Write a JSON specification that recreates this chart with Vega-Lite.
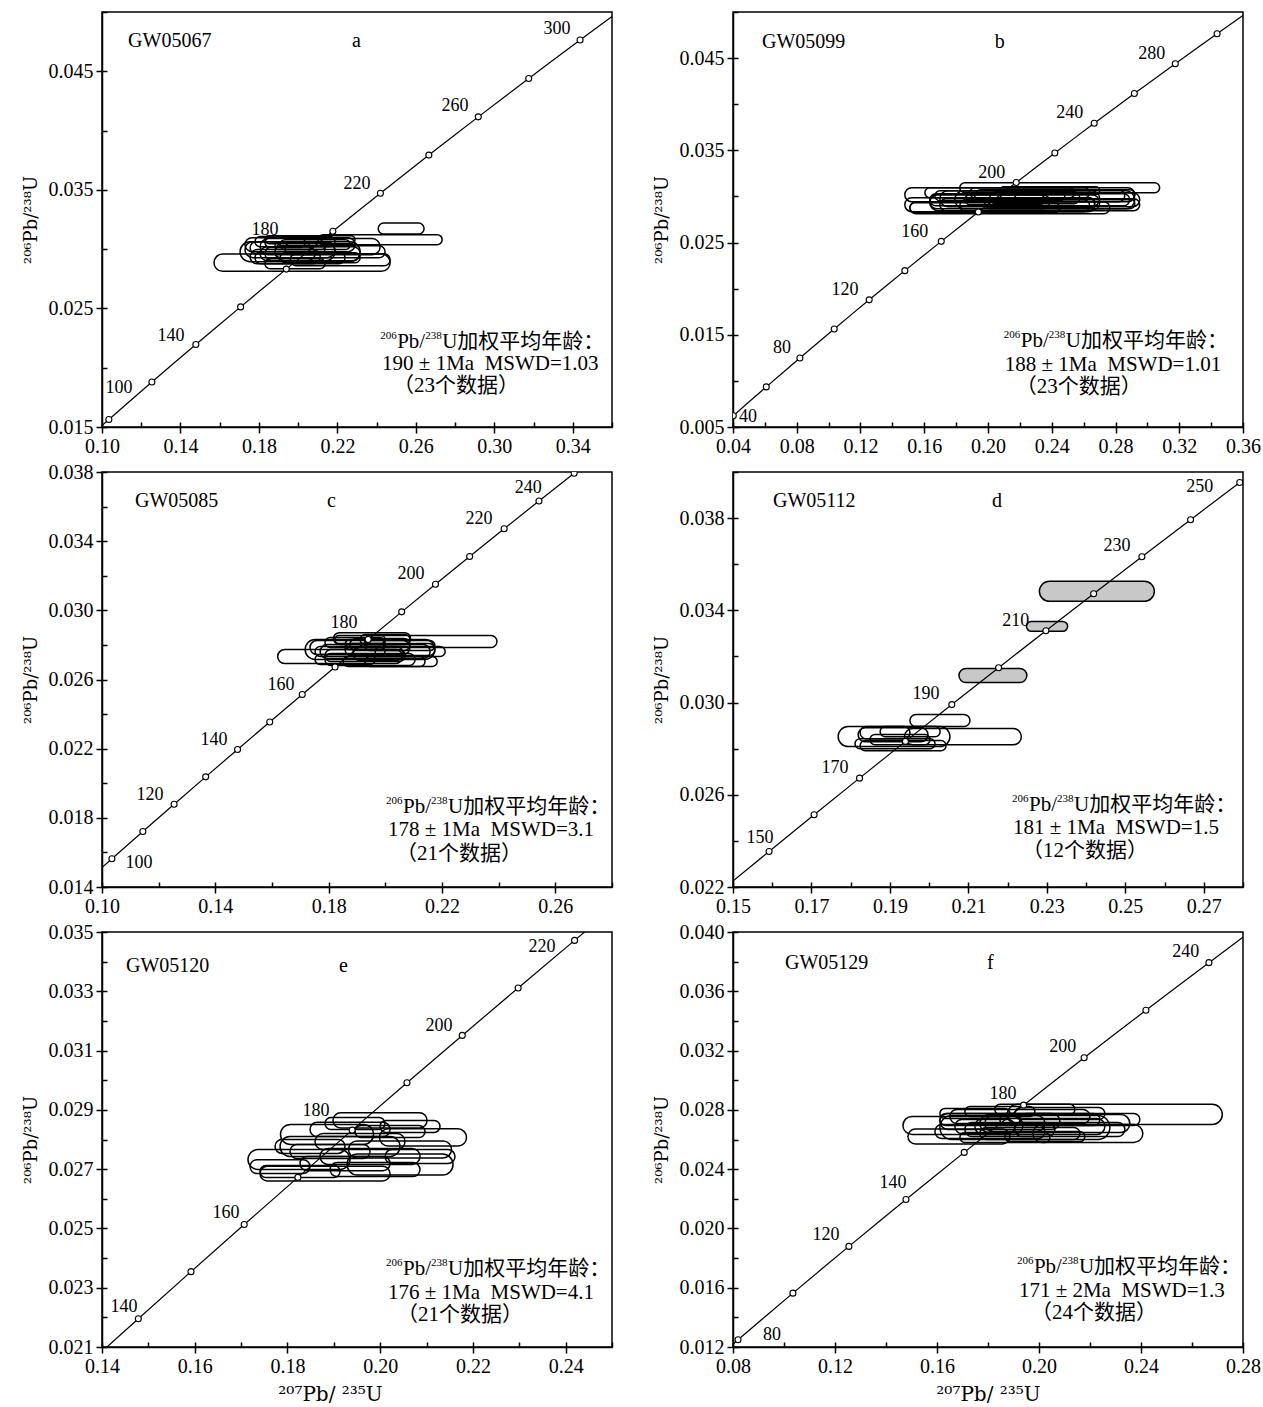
{
  "$schema": "https://vega.github.io/schema/vega-lite/v6.json",
  "background": "white",
  "padding": {"left": 21, "top": 10, "right": 5, "bottom": 5},
  "bounds": "flush",
  "columns": 2,
  "spacing": {"row": 45, "column": 121},
  "config": {
    "view": {"stroke": "black", "strokeWidth": 1.5},
    "font": "Liberation Serif",
    "axis": {"labelFont": "Liberation Serif", "labelFontSize": 20, "labelColor": "black", "domainColor": "black", "domainWidth": 1.5, "tickColor": "black", "tickWidth": 1.5, "tickSize": 6, "grid": false, "titleFont": "DejaVu Serif", "titleFontSize": 18, "titleFontWeight": "normal", "titleColor": "black", "labelPadding": 3, "titlePadding": 8, "labelFlush": false, "labelOverlap": false},
    "text": {"font": "Liberation Serif", "color": "black"}
  },
  "datasets": {
    "concordia": [
      {"t":30,"x":0.029986,"y":0.0046646},{"t":40,"x":0.040180,"y":0.0062243},{"t":50,"x":0.050475,"y":0.0077864},{"t":60,"x":0.060872,"y":0.0093509},{"t":70,"x":0.071371,"y":0.010918},{"t":80,"x":0.081975,"y":0.012487},{"t":90,"x":0.092683,"y":0.014059},{"t":100,"x":0.103498,"y":0.015633},{"t":110,"x":0.114420,"y":0.017210},{"t":120,"x":0.125448,"y":0.018789},{"t":130,"x":0.136588,"y":0.020371},{"t":140,"x":0.147836,"y":0.021955},{"t":150,"x":0.159196,"y":0.023542},{"t":160,"x":0.170670,"y":0.025131},{"t":170,"x":0.182255,"y":0.026722},{"t":180,"x":0.193957,"y":0.028316},{"t":190,"x":0.205774,"y":0.029912},{"t":200,"x":0.217700,"y":0.031511},{"t":210,"x":0.229759,"y":0.033113},{"t":220,"x":0.241930,"y":0.034717},{"t":230,"x":0.254222,"y":0.036323},{"t":240,"x":0.266635,"y":0.037932},{"t":250,"x":0.279171,"y":0.039543},{"t":260,"x":0.291831,"y":0.041157},{"t":270,"x":0.304620,"y":0.042773},{"t":280,"x":0.317528,"y":0.044392},{"t":290,"x":0.330560,"y":0.046014},{"t":300,"x":0.343738,"y":0.047638},{"t":310,"x":0.357037,"y":0.049264},{"t":320,"x":0.370460,"y":0.050893}
    ],
    "ellipses": [
      {"p":"a","x1":0.2408,"x2":0.2642,"y1":0.03127,"y2":0.03220,"s":"open"},
      {"p":"a","x1":0.2102,"x2":0.2734,"y1":0.03038,"y2":0.03122,"s":"open"},
      {"p":"a","x1":0.1571,"x2":0.2469,"y1":0.02814,"y2":0.02958,"s":"open"},
      {"p":"a","x1":0.1729,"x2":0.2290,"y1":0.02979,"y2":0.03097,"s":"open"},
      {"p":"a","x1":0.1729,"x2":0.2188,"y1":0.02928,"y2":0.03063,"s":"open"},
      {"p":"a","x1":0.1806,"x2":0.2316,"y1":0.02903,"y2":0.03021,"s":"open"},
      {"p":"a","x1":0.1780,"x2":0.2188,"y1":0.03021,"y2":0.03106,"s":"open"},
      {"p":"a","x1":0.1806,"x2":0.2418,"y1":0.02953,"y2":0.03089,"s":"open"},
      {"p":"a","x1":0.1755,"x2":0.2112,"y1":0.02877,"y2":0.02996,"s":"open"},
      {"p":"a","x1":0.1882,"x2":0.2188,"y1":0.02903,"y2":0.03055,"s":"open"},
      {"p":"a","x1":0.1882,"x2":0.2443,"y1":0.02928,"y2":0.03029,"s":"open"},
      {"p":"a","x1":0.1755,"x2":0.2061,"y1":0.02962,"y2":0.03063,"s":"open"},
      {"p":"a","x1":0.1780,"x2":0.2239,"y1":0.02877,"y2":0.02979,"s":"open"},
      {"p":"a","x1":0.1908,"x2":0.2265,"y1":0.02996,"y2":0.03080,"s":"open"},
      {"p":"a","x1":0.1831,"x2":0.2086,"y1":0.02903,"y2":0.03021,"s":"open"},
      {"p":"a","x1":0.1933,"x2":0.2137,"y1":0.02953,"y2":0.03055,"s":"open"},
      {"p":"a","x1":0.1908,"x2":0.2316,"y1":0.02886,"y2":0.02970,"s":"open"},
      {"p":"a","x1":0.1882,"x2":0.2137,"y1":0.02996,"y2":0.03063,"s":"open"},
      {"p":"a","x1":0.1831,"x2":0.2137,"y1":0.02835,"y2":0.02920,"s":"open"},
      {"p":"a","x1":0.1959,"x2":0.2469,"y1":0.02860,"y2":0.02962,"s":"open"},
      {"p":"a","x1":0.1831,"x2":0.2035,"y1":0.03013,"y2":0.03097,"s":"open"},
      {"p":"a","x1":0.1831,"x2":0.2290,"y1":0.03046,"y2":0.03114,"s":"open"},
      {"p":"a","x1":0.1704,"x2":0.2316,"y1":0.02894,"y2":0.03063,"s":"open"},
      {"p":"b","x1":0.1478,"x2":0.2921,"y1":0.02943,"y2":0.03094,"s":"open"},
      {"p":"b","x1":0.1823,"x2":0.3077,"y1":0.03040,"y2":0.03148,"s":"open"},
      {"p":"b","x1":0.1478,"x2":0.2670,"y1":0.02835,"y2":0.02986,"s":"open"},
      {"p":"b","x1":0.1635,"x2":0.2889,"y1":0.02900,"y2":0.03030,"s":"open"},
      {"p":"b","x1":0.1698,"x2":0.2952,"y1":0.02846,"y2":0.02975,"s":"open"},
      {"p":"b","x1":0.1510,"x2":0.2764,"y1":0.02813,"y2":0.02943,"s":"open"},
      {"p":"b","x1":0.1698,"x2":0.2701,"y1":0.02889,"y2":0.03062,"s":"open"},
      {"p":"b","x1":0.1917,"x2":0.2858,"y1":0.02943,"y2":0.03073,"s":"open"},
      {"p":"b","x1":0.1635,"x2":0.2388,"y1":0.02867,"y2":0.03019,"s":"open"},
      {"p":"b","x1":0.1886,"x2":0.2638,"y1":0.02986,"y2":0.03094,"s":"open"},
      {"p":"b","x1":0.2074,"x2":0.2952,"y1":0.02889,"y2":0.03040,"s":"open"},
      {"p":"b","x1":0.1667,"x2":0.2482,"y1":0.02954,"y2":0.03062,"s":"open"},
      {"p":"b","x1":0.1980,"x2":0.2670,"y1":0.02878,"y2":0.02986,"s":"open"},
      {"p":"b","x1":0.1635,"x2":0.2701,"y1":0.02846,"y2":0.03019,"s":"open"},
      {"p":"b","x1":0.1980,"x2":0.2921,"y1":0.02867,"y2":0.02975,"s":"open"},
      {"p":"b","x1":0.1510,"x2":0.2450,"y1":0.02824,"y2":0.02932,"s":"open"},
      {"p":"b","x1":0.2011,"x2":0.2576,"y1":0.02921,"y2":0.03051,"s":"open"},
      {"p":"b","x1":0.1855,"x2":0.2356,"y1":0.02911,"y2":0.03019,"s":"open"},
      {"p":"b","x1":0.2074,"x2":0.2701,"y1":0.03019,"y2":0.03105,"s":"open"},
      {"p":"b","x1":0.1823,"x2":0.2638,"y1":0.02835,"y2":0.02965,"s":"open"},
      {"p":"b","x1":0.2168,"x2":0.2921,"y1":0.02965,"y2":0.03073,"s":"open"},
      {"p":"b","x1":0.1604,"x2":0.2544,"y1":0.02986,"y2":0.03094,"s":"open"},
      {"p":"b","x1":0.1792,"x2":0.2921,"y1":0.02867,"y2":0.03062,"s":"open"},
      {"p":"c","x1":0.1620,"x2":0.2061,"y1":0.02692,"y2":0.02773,"s":"open"},
      {"p":"c","x1":0.1928,"x2":0.2394,"y1":0.02785,"y2":0.02854,"s":"open"},
      {"p":"c","x1":0.1817,"x2":0.2089,"y1":0.02802,"y2":0.02871,"s":"open"},
      {"p":"c","x1":0.1734,"x2":0.2087,"y1":0.02744,"y2":0.02825,"s":"open"},
      {"p":"c","x1":0.1770,"x2":0.2158,"y1":0.02721,"y2":0.02802,"s":"open"},
      {"p":"c","x1":0.1787,"x2":0.2070,"y1":0.02704,"y2":0.02773,"s":"open"},
      {"p":"c","x1":0.1875,"x2":0.2087,"y1":0.02767,"y2":0.02837,"s":"open"},
      {"p":"c","x1":0.1787,"x2":0.1999,"y1":0.02785,"y2":0.02843,"s":"open"},
      {"p":"c","x1":0.1858,"x2":0.2175,"y1":0.02739,"y2":0.02808,"s":"open"},
      {"p":"c","x1":0.1787,"x2":0.2105,"y1":0.02681,"y2":0.02750,"s":"open"},
      {"p":"c","x1":0.1851,"x2":0.2183,"y1":0.02675,"y2":0.02733,"s":"open"},
      {"p":"c","x1":0.1752,"x2":0.1999,"y1":0.02733,"y2":0.02791,"s":"open"},
      {"p":"c","x1":0.1911,"x2":0.2087,"y1":0.02802,"y2":0.02860,"s":"open"},
      {"p":"c","x1":0.1858,"x2":0.1999,"y1":0.02773,"y2":0.02831,"s":"open"},
      {"p":"c","x1":0.1928,"x2":0.2175,"y1":0.02767,"y2":0.02825,"s":"open"},
      {"p":"c","x1":0.1752,"x2":0.1964,"y1":0.02687,"y2":0.02744,"s":"open"},
      {"p":"c","x1":0.1886,"x2":0.2063,"y1":0.02710,"y2":0.02791,"s":"open"},
      {"p":"c","x1":0.1822,"x2":0.1999,"y1":0.02808,"y2":0.02854,"s":"open"},
      {"p":"c","x1":0.1964,"x2":0.2211,"y1":0.02733,"y2":0.02791,"s":"open"},
      {"p":"c","x1":0.1717,"x2":0.2175,"y1":0.02716,"y2":0.02831,"s":"open"},
      {"p":"c","x1":0.1928,"x2":0.2140,"y1":0.02675,"y2":0.02733,"s":"open"},
      {"p":"d","x1":0.2281,"x2":0.2574,"y1":0.03439,"y2":0.03526,"s":"gray"},
      {"p":"d","x1":0.2248,"x2":0.2353,"y1":0.03309,"y2":0.03352,"s":"gray"},
      {"p":"d","x1":0.2076,"x2":0.2249,"y1":0.03087,"y2":0.03148,"s":"gray"},
      {"p":"d","x1":0.1768,"x2":0.2053,"y1":0.02809,"y2":0.02896,"s":"open"},
      {"p":"d","x1":0.1937,"x2":0.2235,"y1":0.02817,"y2":0.02887,"s":"open"},
      {"p":"d","x1":0.1951,"x2":0.2104,"y1":0.02896,"y2":0.02948,"s":"open"},
      {"p":"d","x1":0.1824,"x2":0.2043,"y1":0.02791,"y2":0.02835,"s":"open"},
      {"p":"d","x1":0.1819,"x2":0.1997,"y1":0.02830,"y2":0.02891,"s":"open"},
      {"p":"d","x1":0.1849,"x2":0.2002,"y1":0.02817,"y2":0.02861,"s":"open"},
      {"p":"d","x1":0.1824,"x2":0.1951,"y1":0.02843,"y2":0.02896,"s":"open"},
      {"p":"d","x1":0.1875,"x2":0.2028,"y1":0.02852,"y2":0.02896,"s":"open"},
      {"p":"d","x1":0.1811,"x2":0.2015,"y1":0.02800,"y2":0.02843,"s":"open"},
      {"p":"e","x1":0.18983,"x2":0.21010,"y1":0.02839,"y2":0.02890,"s":"open"},
      {"p":"e","x1":0.17850,"x2":0.19856,"y1":0.02783,"y2":0.02851,"s":"open"},
      {"p":"e","x1":0.19986,"x2":0.21862,"y1":0.02778,"y2":0.02836,"s":"open"},
      {"p":"e","x1":0.19317,"x2":0.21539,"y1":0.02738,"y2":0.02795,"s":"open"},
      {"p":"e","x1":0.17149,"x2":0.19349,"y1":0.02699,"y2":0.02766,"s":"open"},
      {"p":"e","x1":0.19285,"x2":0.21571,"y1":0.02680,"y2":0.02751,"s":"open"},
      {"p":"e","x1":0.17408,"x2":0.20212,"y1":0.02660,"y2":0.02710,"s":"open"},
      {"p":"e","x1":0.18487,"x2":0.20212,"y1":0.02810,"y2":0.02858,"s":"open"},
      {"p":"e","x1":0.18594,"x2":0.20535,"y1":0.02766,"y2":0.02820,"s":"open"},
      {"p":"e","x1":0.18055,"x2":0.19781,"y1":0.02736,"y2":0.02783,"s":"open"},
      {"p":"e","x1":0.18702,"x2":0.20859,"y1":0.02716,"y2":0.02770,"s":"open"},
      {"p":"e","x1":0.17732,"x2":0.19242,"y1":0.02753,"y2":0.02800,"s":"open"},
      {"p":"e","x1":0.19457,"x2":0.20967,"y1":0.02807,"y2":0.02847,"s":"open"},
      {"p":"e","x1":0.18271,"x2":0.20212,"y1":0.02695,"y2":0.02743,"s":"open"},
      {"p":"e","x1":0.17192,"x2":0.18487,"y1":0.02685,"y2":0.02732,"s":"open"},
      {"p":"e","x1":0.20104,"x2":0.21614,"y1":0.02719,"y2":0.02766,"s":"open"},
      {"p":"e","x1":0.18810,"x2":0.20104,"y1":0.02834,"y2":0.02874,"s":"open"},
      {"p":"e","x1":0.17408,"x2":0.19134,"y1":0.02672,"y2":0.02712,"s":"open"},
      {"p":"e","x1":0.18918,"x2":0.20859,"y1":0.02675,"y2":0.02722,"s":"open"},
      {"p":"e","x1":0.17840,"x2":0.20428,"y1":0.02743,"y2":0.02810,"s":"open"},
      {"p":"e","x1":0.19996,"x2":0.21291,"y1":0.02824,"y2":0.02864,"s":"open"},
      {"p":"f","x1":0.18760,"x2":0.27188,"y1":0.02701,"y2":0.02837,"s":"open"},
      {"p":"f","x1":0.19760,"x2":0.24072,"y1":0.02580,"y2":0.02701,"s":"open"},
      {"p":"f","x1":0.14664,"x2":0.19368,"y1":0.02634,"y2":0.02755,"s":"open"},
      {"p":"f","x1":0.14860,"x2":0.18858,"y1":0.02570,"y2":0.02671,"s":"open"},
      {"p":"f","x1":0.16114,"x2":0.20818,"y1":0.02668,"y2":0.02776,"s":"open"},
      {"p":"f","x1":0.16506,"x2":0.21994,"y1":0.02708,"y2":0.02803,"s":"open"},
      {"p":"f","x1":0.17486,"x2":0.22582,"y1":0.02634,"y2":0.02742,"s":"open"},
      {"p":"f","x1":0.15918,"x2":0.20230,"y1":0.02607,"y2":0.02701,"s":"open"},
      {"p":"f","x1":0.18466,"x2":0.22386,"y1":0.02695,"y2":0.02776,"s":"open"},
      {"p":"f","x1":0.17094,"x2":0.20622,"y1":0.02620,"y2":0.02715,"s":"open"},
      {"p":"f","x1":0.16114,"x2":0.19250,"y1":0.02695,"y2":0.02776,"s":"open"},
      {"p":"f","x1":0.17682,"x2":0.21602,"y1":0.02600,"y2":0.02681,"s":"open"},
      {"p":"f","x1":0.19054,"x2":0.22582,"y1":0.02735,"y2":0.02816,"s":"open"},
      {"p":"f","x1":0.17094,"x2":0.19838,"y1":0.02755,"y2":0.02823,"s":"open"},
      {"p":"f","x1":0.19054,"x2":0.23366,"y1":0.02620,"y2":0.02715,"s":"open"},
      {"p":"f","x1":0.17878,"x2":0.20230,"y1":0.02654,"y2":0.02762,"s":"open"},
      {"p":"f","x1":0.18662,"x2":0.21798,"y1":0.02586,"y2":0.02654,"s":"open"},
      {"p":"f","x1":0.16702,"x2":0.19054,"y1":0.02640,"y2":0.02735,"s":"open"},
      {"p":"f","x1":0.18270,"x2":0.21406,"y1":0.02769,"y2":0.02837,"s":"open"},
      {"p":"f","x1":0.17682,"x2":0.23562,"y1":0.02647,"y2":0.02769,"s":"open"},
      {"p":"f","x1":0.16898,"x2":0.20426,"y1":0.02580,"y2":0.02647,"s":"open"},
      {"p":"f","x1":0.16114,"x2":0.18858,"y1":0.02742,"y2":0.02810,"s":"open"},
      {"p":"f","x1":0.19250,"x2":0.23954,"y1":0.02695,"y2":0.02776,"s":"open"},
      {"p":"f","x1":0.16114,"x2":0.22778,"y1":0.02600,"y2":0.02762,"s":"open"}
    ],
    "ages": [
      {"p":"a","lab":100,"x":0.1087,"y":0.0183},{"p":"a","lab":140,"x":0.1352,"y":0.0227},{"p":"a","lab":180,"x":0.1831,"y":0.03165},{"p":"a","lab":220,"x":0.2300,"y":0.03546},{"p":"a","lab":260,"x":0.2800,"y":0.04205},{"p":"a","lab":300,"x":0.3320,"y":0.04856},
      {"p":"b","lab":40,"x":0.0494,"y":0.00608},{"p":"b","lab":80,"x":0.0707,"y":0.01354},{"p":"b","lab":120,"x":0.1102,"y":0.01981},{"p":"b","lab":160,"x":0.1541,"y":0.02619},{"p":"b","lab":200,"x":0.2024,"y":0.03257},{"p":"b","lab":240,"x":0.2513,"y":0.03905},{"p":"b","lab":280,"x":0.3027,"y":0.04543},
      {"p":"c","lab":100,"x":0.1131,"y":0.01538},{"p":"c","lab":120,"x":0.1169,"y":0.01931},{"p":"c","lab":140,"x":0.1395,"y":0.02248},{"p":"c","lab":160,"x":0.1632,"y":0.02566},{"p":"c","lab":180,"x":0.1854,"y":0.02929},{"p":"c","lab":200,"x":0.2091,"y":0.03212},{"p":"c","lab":220,"x":0.2331,"y":0.03529},{"p":"c","lab":240,"x":0.2504,"y":0.03708},
      {"p":"d","lab":150,"x":0.15688,"y":0.02413},{"p":"d","lab":170,"x":0.1760,"y":0.02717},{"p":"d","lab":190,"x":0.1992,"y":0.03035},{"p":"d","lab":210,"x":0.2221,"y":0.03352},{"p":"d","lab":230,"x":0.2479,"y":0.03678},{"p":"d","lab":250,"x":0.2690,"y":0.03935},
      {"p":"e","lab":140,"x":0.14475,"y":0.02235},{"p":"e","lab":160,"x":0.16675,"y":0.02553},{"p":"e","lab":180,"x":0.18616,"y":0.02895},{"p":"e","lab":200,"x":0.21269,"y":0.03182},{"p":"e","lab":220,"x":0.23491,"y":0.03449},
      {"p":"f","lab":80,"x":0.09529,"y":0.01281},{"p":"f","lab":120,"x":0.11646,"y":0.01957},{"p":"f","lab":140,"x":0.14272,"y":0.02309},{"p":"f","lab":180,"x":0.18584,"y":0.02904},{"p":"f","lab":200,"x":0.20936,"y":0.03222},{"p":"f","lab":240,"x":0.25758,"y":0.03865}
    ],
    "notes": [
      {"p":"a","k":"n","txt":"GW05067","x":0.1133,"y":0.04753},{"p":"a","k":"n","txt":"a","x":0.2275,"y":0.04753},
      {"p":"a","k":"s","txt":"206","x":0.2418,"y":0.02269},{"p":"a","k":"l","txt":"Pb/","x":0.25047,"y":0.02218},{"p":"a","k":"s","txt":"238","x":0.26474,"y":0.02269},{"p":"a","k":"l","txt":"U加权平均年龄：","x":0.27341,"y":0.02218},
      {"p":"a","k":"l","txt":"190\u00a0±\u00a01Ma\u00a0\u00a0MSWD=1.03","x":0.2428,"y":0.02032},{"p":"a","k":"l","txt":"（23个数据）","x":0.2484,"y":0.01846},
      {"p":"b","k":"n","txt":"GW05099","x":0.0582,"y":0.04673},{"p":"b","k":"n","txt":"b","x":0.2043,"y":0.04673},
      {"p":"b","k":"s","txt":"206","x":0.2099,"y":0.01495},{"p":"b","k":"l","txt":"Pb/","x":0.22057,"y":0.01430},{"p":"b","k":"s","txt":"238","x":0.23814,"y":0.01495},{"p":"b","k":"l","txt":"U加权平均年龄：","x":0.24881,"y":0.01430},
      {"p":"b","k":"l","txt":"188\u00a0±\u00a01Ma\u00a0\u00a0MSWD=1.01","x":0.2105,"y":0.01170},{"p":"b","k":"l","txt":"（23个数据）","x":0.2174,"y":0.00932},
      {"p":"c","k":"n","txt":"GW05085","x":0.11165,"y":0.03633},{"p":"c","k":"n","txt":"c","x":0.17943,"y":0.03633},
      {"p":"c","k":"s","txt":"206","x":0.20025,"y":0.01897},{"p":"c","k":"l","txt":"Pb/","x":0.20625,"y":0.01862},{"p":"c","k":"s","txt":"238","x":0.21613,"y":0.01897},{"p":"c","k":"l","txt":"U加权平均年龄：","x":0.22213,"y":0.01862},
      {"p":"c","k":"l","txt":"178\u00a0±\u00a01Ma\u00a0\u00a0MSWD=3.1","x":0.20096,"y":0.01729},{"p":"c","k":"l","txt":"（21个数据）","x":0.20378,"y":0.01590},
      {"p":"d","k":"n","txt":"GW05112","x":0.16020,"y":0.03874},{"p":"d","k":"n","txt":"d","x":0.21602,"y":0.03874},
      {"p":"d","k":"s","txt":"206","x":0.22112,"y":0.02583},{"p":"d","k":"l","txt":"Pb/","x":0.22545,"y":0.02557},{"p":"d","k":"s","txt":"238","x":0.23259,"y":0.02583},{"p":"d","k":"l","txt":"U加权平均年龄：","x":0.23692,"y":0.02557},
      {"p":"d","k":"l","txt":"181\u00a0±\u00a01Ma\u00a0\u00a0MSWD=1.5","x":0.22137,"y":0.02457},{"p":"d","k":"l","txt":"（12个数据）","x":0.22367,"y":0.02357},
      {"p":"e","k":"n","txt":"GW05120","x":0.14518,"y":0.03385},{"p":"e","k":"n","txt":"e","x":0.19112,"y":0.03385},
      {"p":"e","k":"s","txt":"206","x":0.20126,"y":0.02384},{"p":"e","k":"l","txt":"Pb/","x":0.20493,"y":0.02364},{"p":"e","k":"s","txt":"238","x":0.21097,"y":0.02384},{"p":"e","k":"l","txt":"U加权平均年龄：","x":0.21463,"y":0.02364},
      {"p":"e","k":"l","txt":"176\u00a0±\u00a01Ma\u00a0\u00a0MSWD=4.1","x":0.20169,"y":0.02283},{"p":"e","k":"l","txt":"（21个数据）","x":0.20363,"y":0.02208},
      {"p":"f","k":"n","txt":"GW05129","x":0.10038,"y":0.03790},{"p":"f","k":"n","txt":"f","x":0.17957,"y":0.03790},
      {"p":"f","k":"s","txt":"206","x":0.19133,"y":0.01782},{"p":"f","k":"l","txt":"Pb/","x":0.19800,"y":0.01741},{"p":"f","k":"s","txt":"238","x":0.20898,"y":0.01782},{"p":"f","k":"l","txt":"U加权平均年龄：","x":0.21565,"y":0.01741},
      {"p":"f","k":"l","txt":"171\u00a0±\u00a02Ma\u00a0\u00a0MSWD=1.3","x":0.19211,"y":0.01579},{"p":"f","k":"l","txt":"（24个数据）","x":0.19682,"y":0.01430}
    ]
  },
  "concat": [
    {
      "width": 510, "height": 415,
      "resolve": {"axis": {"x": "independent", "y": "independent"}},
      "layer": [
        {"data": {"name": "ellipses"}, "transform": [{"filter": {"field": "p", "equal": "a"}}],
         "mark": {"type": "rect", "cornerRadius": 300, "stroke": "black", "strokeWidth": 1.5, "clip": true},
         "encoding": {
           "x": {"field": "x1", "type": "quantitative", "scale": {"domain": [0.10, 0.36], "nice": false, "zero": false}, "axis": {"orient": "bottom", "values": [0.10,0.14,0.18,0.22,0.26,0.30,0.34], "format": ".2f", "title": null}},
           "x2": {"field": "x2"},
           "y": {"field": "y1", "type": "quantitative", "scale": {"domain": [0.015, 0.050], "nice": false, "zero": false}, "axis": {"orient": "left", "values": [0.015,0.025,0.035,0.045], "format": ".3f", "title": "²⁰⁶Pb/²³⁸U"}},
           "y2": {"field": "y2"},
           "fill": {"field": "s", "type": "nominal", "scale": {"domain": ["open", "gray"], "range": ["transparent", "#c8c8c8"]}, "legend": null}
         }},
        {"data": {"name": "concordia"}, "transform": [{"filter": {"field": "t", "range": [90, 320]}}],
         "mark": {"type": "line", "color": "black", "strokeWidth": 1.2, "clip": true},
         "encoding": {
           "x": {"field": "x", "type": "quantitative", "scale": {"domain": [0.10, 0.36], "nice": false, "zero": false}, "axis": {"orient": "bottom", "values": [0.10,0.12,0.14,0.16,0.18,0.20,0.22,0.24,0.26,0.28,0.30,0.32,0.34,0.36], "labels": false, "domain": false, "tickSize": -5, "title": null}},
           "y": {"field": "y", "type": "quantitative", "scale": {"domain": [0.015, 0.050], "nice": false, "zero": false}, "axis": {"orient": "left", "values": [0.015,0.020,0.025,0.030,0.035,0.040,0.045,0.050], "labels": false, "domain": false, "tickSize": -5, "title": null}},
           "order": {"field": "t", "type": "quantitative"}
         }},
        {"data": {"name": "concordia"}, "transform": [{"filter": {"field": "t", "oneOf": [100,120,140,160,180,200,220,240,260,280,300]}}],
         "mark": {"type": "point", "shape": "circle", "size": 36, "filled": true, "fill": "white", "stroke": "black", "strokeWidth": 1.1, "opacity": 1, "clip": true},
         "encoding": {
           "x": {"field": "x", "type": "quantitative", "scale": {"domain": [0.10, 0.36], "nice": false, "zero": false}, "axis": null},
           "y": {"field": "y", "type": "quantitative", "scale": {"domain": [0.015, 0.050], "nice": false, "zero": false}, "axis": null}
         }},
        {"data": {"name": "ages"}, "transform": [{"filter": {"field": "p", "equal": "a"}}],
         "mark": {"type": "text", "fontSize": 18, "baseline": "middle", "align": "center"},
         "encoding": {
           "x": {"field": "x", "type": "quantitative", "scale": {"domain": [0.10, 0.36], "nice": false, "zero": false}, "axis": null},
           "y": {"field": "y", "type": "quantitative", "scale": {"domain": [0.015, 0.050], "nice": false, "zero": false}, "axis": null},
           "text": {"field": "lab", "type": "nominal"}
         }},
        {"data": {"name": "notes"}, "transform": [{"filter": {"field": "p", "equal": "a"}}, {"filter": {"field": "k", "equal": "n"}}],
         "mark": {"type": "text", "fontSize": 20, "baseline": "middle", "align": "left"},
         "encoding": {
           "x": {"field": "x", "type": "quantitative", "scale": {"domain": [0.10, 0.36], "nice": false, "zero": false}, "axis": null},
           "y": {"field": "y", "type": "quantitative", "scale": {"domain": [0.015, 0.050], "nice": false, "zero": false}, "axis": null},
           "text": {"field": "txt", "type": "nominal"}
         }},
        {"data": {"name": "notes"}, "transform": [{"filter": {"field": "p", "equal": "a"}}, {"filter": {"field": "k", "equal": "s"}}],
         "mark": {"type": "text", "fontSize": 11, "baseline": "middle", "align": "left"},
         "encoding": {
           "x": {"field": "x", "type": "quantitative", "scale": {"domain": [0.10, 0.36], "nice": false, "zero": false}, "axis": null},
           "y": {"field": "y", "type": "quantitative", "scale": {"domain": [0.015, 0.050], "nice": false, "zero": false}, "axis": null},
           "text": {"field": "txt", "type": "nominal"}
         }},
        {"data": {"name": "notes"}, "transform": [{"filter": {"field": "p", "equal": "a"}}, {"filter": {"field": "k", "equal": "l"}}],
         "mark": {"type": "text", "fontSize": 21, "baseline": "middle", "align": "left", "font": "Liberation Serif, Noto Sans CJK SC"},
         "encoding": {
           "x": {"field": "x", "type": "quantitative", "scale": {"domain": [0.10, 0.36], "nice": false, "zero": false}, "axis": null},
           "y": {"field": "y", "type": "quantitative", "scale": {"domain": [0.015, 0.050], "nice": false, "zero": false}, "axis": null},
           "text": {"field": "txt", "type": "nominal"}
         }}
      ]
    },
    {
      "width": 510, "height": 415,
      "resolve": {"axis": {"x": "independent", "y": "independent"}},
      "layer": [
        {"data": {"name": "ellipses"}, "transform": [{"filter": {"field": "p", "equal": "b"}}],
         "mark": {"type": "rect", "cornerRadius": 300, "stroke": "black", "strokeWidth": 1.5, "clip": true},
         "encoding": {
           "x": {"field": "x1", "type": "quantitative", "scale": {"domain": [0.04, 0.36], "nice": false, "zero": false}, "axis": {"orient": "bottom", "values": [0.04,0.08,0.12,0.16,0.20,0.24,0.28,0.32,0.36], "format": ".2f", "title": null}},
           "x2": {"field": "x2"},
           "y": {"field": "y1", "type": "quantitative", "scale": {"domain": [0.005, 0.050], "nice": false, "zero": false}, "axis": {"orient": "left", "values": [0.005,0.015,0.025,0.035,0.045], "format": ".3f", "title": "²⁰⁶Pb/²³⁸U"}},
           "y2": {"field": "y2"},
           "fill": {"field": "s", "type": "nominal", "scale": {"domain": ["open", "gray"], "range": ["transparent", "#c8c8c8"]}, "legend": null}
         }},
        {"data": {"name": "concordia"}, "transform": [{"filter": {"field": "t", "range": [30, 320]}}],
         "mark": {"type": "line", "color": "black", "strokeWidth": 1.2, "clip": true},
         "encoding": {
           "x": {"field": "x", "type": "quantitative", "scale": {"domain": [0.04, 0.36], "nice": false, "zero": false}, "axis": {"orient": "bottom", "values": [0.04,0.06,0.08,0.10,0.12,0.14,0.16,0.18,0.20,0.22,0.24,0.26,0.28,0.30,0.32,0.34,0.36], "labels": false, "domain": false, "tickSize": -5, "title": null}},
           "y": {"field": "y", "type": "quantitative", "scale": {"domain": [0.005, 0.050], "nice": false, "zero": false}, "axis": {"orient": "left", "values": [0.005,0.010,0.015,0.020,0.025,0.030,0.035,0.040,0.045,0.050], "labels": false, "domain": false, "tickSize": -5, "title": null}},
           "order": {"field": "t", "type": "quantitative"}
         }},
        {"data": {"name": "concordia"}, "transform": [{"filter": {"field": "t", "oneOf": [40,60,80,100,120,140,160,180,200,220,240,260,280,300]}}],
         "mark": {"type": "point", "shape": "circle", "size": 36, "filled": true, "fill": "white", "stroke": "black", "strokeWidth": 1.1, "opacity": 1, "clip": true},
         "encoding": {
           "x": {"field": "x", "type": "quantitative", "scale": {"domain": [0.04, 0.36], "nice": false, "zero": false}, "axis": null},
           "y": {"field": "y", "type": "quantitative", "scale": {"domain": [0.005, 0.050], "nice": false, "zero": false}, "axis": null}
         }},
        {"data": {"name": "ages"}, "transform": [{"filter": {"field": "p", "equal": "b"}}],
         "mark": {"type": "text", "fontSize": 18, "baseline": "middle", "align": "center"},
         "encoding": {
           "x": {"field": "x", "type": "quantitative", "scale": {"domain": [0.04, 0.36], "nice": false, "zero": false}, "axis": null},
           "y": {"field": "y", "type": "quantitative", "scale": {"domain": [0.005, 0.050], "nice": false, "zero": false}, "axis": null},
           "text": {"field": "lab", "type": "nominal"}
         }},
        {"data": {"name": "notes"}, "transform": [{"filter": {"field": "p", "equal": "b"}}, {"filter": {"field": "k", "equal": "n"}}],
         "mark": {"type": "text", "fontSize": 20, "baseline": "middle", "align": "left"},
         "encoding": {
           "x": {"field": "x", "type": "quantitative", "scale": {"domain": [0.04, 0.36], "nice": false, "zero": false}, "axis": null},
           "y": {"field": "y", "type": "quantitative", "scale": {"domain": [0.005, 0.050], "nice": false, "zero": false}, "axis": null},
           "text": {"field": "txt", "type": "nominal"}
         }},
        {"data": {"name": "notes"}, "transform": [{"filter": {"field": "p", "equal": "b"}}, {"filter": {"field": "k", "equal": "s"}}],
         "mark": {"type": "text", "fontSize": 11, "baseline": "middle", "align": "left"},
         "encoding": {
           "x": {"field": "x", "type": "quantitative", "scale": {"domain": [0.04, 0.36], "nice": false, "zero": false}, "axis": null},
           "y": {"field": "y", "type": "quantitative", "scale": {"domain": [0.005, 0.050], "nice": false, "zero": false}, "axis": null},
           "text": {"field": "txt", "type": "nominal"}
         }},
        {"data": {"name": "notes"}, "transform": [{"filter": {"field": "p", "equal": "b"}}, {"filter": {"field": "k", "equal": "l"}}],
         "mark": {"type": "text", "fontSize": 21, "baseline": "middle", "align": "left", "font": "Liberation Serif, Noto Sans CJK SC"},
         "encoding": {
           "x": {"field": "x", "type": "quantitative", "scale": {"domain": [0.04, 0.36], "nice": false, "zero": false}, "axis": null},
           "y": {"field": "y", "type": "quantitative", "scale": {"domain": [0.005, 0.050], "nice": false, "zero": false}, "axis": null},
           "text": {"field": "txt", "type": "nominal"}
         }}
      ]
    },
    {
      "width": 510, "height": 415,
      "resolve": {"axis": {"x": "independent", "y": "independent"}},
      "layer": [
        {"data": {"name": "ellipses"}, "transform": [{"filter": {"field": "p", "equal": "c"}}],
         "mark": {"type": "rect", "cornerRadius": 300, "stroke": "black", "strokeWidth": 1.5, "clip": true},
         "encoding": {
           "x": {"field": "x1", "type": "quantitative", "scale": {"domain": [0.10, 0.28], "nice": false, "zero": false}, "axis": {"orient": "bottom", "values": [0.10,0.14,0.18,0.22,0.26], "format": ".2f", "title": null}},
           "x2": {"field": "x2"},
           "y": {"field": "y1", "type": "quantitative", "scale": {"domain": [0.014, 0.038], "nice": false, "zero": false}, "axis": {"orient": "left", "values": [0.014,0.018,0.022,0.026,0.030,0.034,0.038], "format": ".3f", "title": "²⁰⁶Pb/²³⁸U"}},
           "y2": {"field": "y2"},
           "fill": {"field": "s", "type": "nominal", "scale": {"domain": ["open", "gray"], "range": ["transparent", "#c8c8c8"]}, "legend": null}
         }},
        {"data": {"name": "concordia"}, "transform": [{"filter": {"field": "t", "range": [90, 260]}}],
         "mark": {"type": "line", "color": "black", "strokeWidth": 1.2, "clip": true},
         "encoding": {
           "x": {"field": "x", "type": "quantitative", "scale": {"domain": [0.10, 0.28], "nice": false, "zero": false}, "axis": {"orient": "bottom", "values": [0.10,0.12,0.14,0.16,0.18,0.20,0.22,0.24,0.26,0.28], "labels": false, "domain": false, "tickSize": -5, "title": null}},
           "y": {"field": "y", "type": "quantitative", "scale": {"domain": [0.014, 0.038], "nice": false, "zero": false}, "axis": {"orient": "left", "values": [0.014,0.016,0.018,0.020,0.022,0.024,0.026,0.028,0.030,0.032,0.034,0.036,0.038], "labels": false, "domain": false, "tickSize": -5, "title": null}},
           "order": {"field": "t", "type": "quantitative"}
         }},
        {"data": {"name": "concordia"}, "transform": [{"filter": {"field": "t", "oneOf": [100,110,120,130,140,150,160,170,180,190,200,210,220,230,240]}}],
         "mark": {"type": "point", "shape": "circle", "size": 36, "filled": true, "fill": "white", "stroke": "black", "strokeWidth": 1.1, "opacity": 1, "clip": true},
         "encoding": {
           "x": {"field": "x", "type": "quantitative", "scale": {"domain": [0.10, 0.28], "nice": false, "zero": false}, "axis": null},
           "y": {"field": "y", "type": "quantitative", "scale": {"domain": [0.014, 0.038], "nice": false, "zero": false}, "axis": null}
         }},
        {"data": {"name": "ages"}, "transform": [{"filter": {"field": "p", "equal": "c"}}],
         "mark": {"type": "text", "fontSize": 18, "baseline": "middle", "align": "center"},
         "encoding": {
           "x": {"field": "x", "type": "quantitative", "scale": {"domain": [0.10, 0.28], "nice": false, "zero": false}, "axis": null},
           "y": {"field": "y", "type": "quantitative", "scale": {"domain": [0.014, 0.038], "nice": false, "zero": false}, "axis": null},
           "text": {"field": "lab", "type": "nominal"}
         }},
        {"data": {"name": "notes"}, "transform": [{"filter": {"field": "p", "equal": "c"}}, {"filter": {"field": "k", "equal": "n"}}],
         "mark": {"type": "text", "fontSize": 20, "baseline": "middle", "align": "left"},
         "encoding": {
           "x": {"field": "x", "type": "quantitative", "scale": {"domain": [0.10, 0.28], "nice": false, "zero": false}, "axis": null},
           "y": {"field": "y", "type": "quantitative", "scale": {"domain": [0.014, 0.038], "nice": false, "zero": false}, "axis": null},
           "text": {"field": "txt", "type": "nominal"}
         }},
        {"data": {"name": "notes"}, "transform": [{"filter": {"field": "p", "equal": "c"}}, {"filter": {"field": "k", "equal": "s"}}],
         "mark": {"type": "text", "fontSize": 11, "baseline": "middle", "align": "left"},
         "encoding": {
           "x": {"field": "x", "type": "quantitative", "scale": {"domain": [0.10, 0.28], "nice": false, "zero": false}, "axis": null},
           "y": {"field": "y", "type": "quantitative", "scale": {"domain": [0.014, 0.038], "nice": false, "zero": false}, "axis": null},
           "text": {"field": "txt", "type": "nominal"}
         }},
        {"data": {"name": "notes"}, "transform": [{"filter": {"field": "p", "equal": "c"}}, {"filter": {"field": "k", "equal": "l"}}],
         "mark": {"type": "text", "fontSize": 21, "baseline": "middle", "align": "left", "font": "Liberation Serif, Noto Sans CJK SC"},
         "encoding": {
           "x": {"field": "x", "type": "quantitative", "scale": {"domain": [0.10, 0.28], "nice": false, "zero": false}, "axis": null},
           "y": {"field": "y", "type": "quantitative", "scale": {"domain": [0.014, 0.038], "nice": false, "zero": false}, "axis": null},
           "text": {"field": "txt", "type": "nominal"}
         }}
      ]
    },
    {
      "width": 510, "height": 415,
      "resolve": {"axis": {"x": "independent", "y": "independent"}},
      "layer": [
        {"data": {"name": "ellipses"}, "transform": [{"filter": {"field": "p", "equal": "d"}}],
         "mark": {"type": "rect", "cornerRadius": 300, "stroke": "black", "strokeWidth": 1.5, "clip": true},
         "encoding": {
           "x": {"field": "x1", "type": "quantitative", "scale": {"domain": [0.15, 0.28], "nice": false, "zero": false}, "axis": {"orient": "bottom", "values": [0.15,0.17,0.19,0.21,0.23,0.25,0.27], "format": ".2f", "title": null}},
           "x2": {"field": "x2"},
           "y": {"field": "y1", "type": "quantitative", "scale": {"domain": [0.022, 0.040], "nice": false, "zero": false}, "axis": {"orient": "left", "values": [0.022,0.026,0.030,0.034,0.038], "format": ".3f", "title": "²⁰⁶Pb/²³⁸U"}},
           "y2": {"field": "y2"},
           "fill": {"field": "s", "type": "nominal", "scale": {"domain": ["open", "gray"], "range": ["transparent", "#c8c8c8"]}, "legend": null}
         }},
        {"data": {"name": "concordia"}, "transform": [{"filter": {"field": "t", "range": [140, 260]}}],
         "mark": {"type": "line", "color": "black", "strokeWidth": 1.2, "clip": true},
         "encoding": {
           "x": {"field": "x", "type": "quantitative", "scale": {"domain": [0.15, 0.28], "nice": false, "zero": false}, "axis": {"orient": "bottom", "values": [0.15,0.16,0.17,0.18,0.19,0.20,0.21,0.22,0.23,0.24,0.25,0.26,0.27,0.28], "labels": false, "domain": false, "tickSize": -5, "title": null}},
           "y": {"field": "y", "type": "quantitative", "scale": {"domain": [0.022, 0.040], "nice": false, "zero": false}, "axis": {"orient": "left", "values": [0.022,0.024,0.026,0.028,0.030,0.032,0.034,0.036,0.038,0.040], "labels": false, "domain": false, "tickSize": -5, "title": null}},
           "order": {"field": "t", "type": "quantitative"}
         }},
        {"data": {"name": "concordia"}, "transform": [{"filter": {"field": "t", "oneOf": [150,160,170,180,190,200,210,220,230,240,250]}}],
         "mark": {"type": "point", "shape": "circle", "size": 36, "filled": true, "fill": "white", "stroke": "black", "strokeWidth": 1.1, "opacity": 1, "clip": true},
         "encoding": {
           "x": {"field": "x", "type": "quantitative", "scale": {"domain": [0.15, 0.28], "nice": false, "zero": false}, "axis": null},
           "y": {"field": "y", "type": "quantitative", "scale": {"domain": [0.022, 0.040], "nice": false, "zero": false}, "axis": null}
         }},
        {"data": {"name": "ages"}, "transform": [{"filter": {"field": "p", "equal": "d"}}],
         "mark": {"type": "text", "fontSize": 18, "baseline": "middle", "align": "center"},
         "encoding": {
           "x": {"field": "x", "type": "quantitative", "scale": {"domain": [0.15, 0.28], "nice": false, "zero": false}, "axis": null},
           "y": {"field": "y", "type": "quantitative", "scale": {"domain": [0.022, 0.040], "nice": false, "zero": false}, "axis": null},
           "text": {"field": "lab", "type": "nominal"}
         }},
        {"data": {"name": "notes"}, "transform": [{"filter": {"field": "p", "equal": "d"}}, {"filter": {"field": "k", "equal": "n"}}],
         "mark": {"type": "text", "fontSize": 20, "baseline": "middle", "align": "left"},
         "encoding": {
           "x": {"field": "x", "type": "quantitative", "scale": {"domain": [0.15, 0.28], "nice": false, "zero": false}, "axis": null},
           "y": {"field": "y", "type": "quantitative", "scale": {"domain": [0.022, 0.040], "nice": false, "zero": false}, "axis": null},
           "text": {"field": "txt", "type": "nominal"}
         }},
        {"data": {"name": "notes"}, "transform": [{"filter": {"field": "p", "equal": "d"}}, {"filter": {"field": "k", "equal": "s"}}],
         "mark": {"type": "text", "fontSize": 11, "baseline": "middle", "align": "left"},
         "encoding": {
           "x": {"field": "x", "type": "quantitative", "scale": {"domain": [0.15, 0.28], "nice": false, "zero": false}, "axis": null},
           "y": {"field": "y", "type": "quantitative", "scale": {"domain": [0.022, 0.040], "nice": false, "zero": false}, "axis": null},
           "text": {"field": "txt", "type": "nominal"}
         }},
        {"data": {"name": "notes"}, "transform": [{"filter": {"field": "p", "equal": "d"}}, {"filter": {"field": "k", "equal": "l"}}],
         "mark": {"type": "text", "fontSize": 21, "baseline": "middle", "align": "left", "font": "Liberation Serif, Noto Sans CJK SC"},
         "encoding": {
           "x": {"field": "x", "type": "quantitative", "scale": {"domain": [0.15, 0.28], "nice": false, "zero": false}, "axis": null},
           "y": {"field": "y", "type": "quantitative", "scale": {"domain": [0.022, 0.040], "nice": false, "zero": false}, "axis": null},
           "text": {"field": "txt", "type": "nominal"}
         }}
      ]
    },
    {
      "width": 510, "height": 415,
      "resolve": {"axis": {"x": "independent", "y": "independent"}},
      "layer": [
        {"data": {"name": "ellipses"}, "transform": [{"filter": {"field": "p", "equal": "e"}}],
         "mark": {"type": "rect", "cornerRadius": 300, "stroke": "black", "strokeWidth": 1.5, "clip": true},
         "encoding": {
           "x": {"field": "x1", "type": "quantitative", "scale": {"domain": [0.14, 0.25], "nice": false, "zero": false}, "axis": {"orient": "bottom", "values": [0.14,0.16,0.18,0.20,0.22,0.24], "format": ".2f", "title": "²⁰⁷Pb/ ²³⁵U", "titleFontSize": 20, "titleX": 228}},
           "x2": {"field": "x2"},
           "y": {"field": "y1", "type": "quantitative", "scale": {"domain": [0.021, 0.035], "nice": false, "zero": false}, "axis": {"orient": "left", "values": [0.021,0.023,0.025,0.027,0.029,0.031,0.033,0.035], "format": ".3f", "title": "²⁰⁶Pb/²³⁸U"}},
           "y2": {"field": "y2"},
           "fill": {"field": "s", "type": "nominal", "scale": {"domain": ["open", "gray"], "range": ["transparent", "#c8c8c8"]}, "legend": null}
         }},
        {"data": {"name": "concordia"}, "transform": [{"filter": {"field": "t", "range": [130, 230]}}],
         "mark": {"type": "line", "color": "black", "strokeWidth": 1.2, "clip": true},
         "encoding": {
           "x": {"field": "x", "type": "quantitative", "scale": {"domain": [0.14, 0.25], "nice": false, "zero": false}, "axis": {"orient": "bottom", "values": [0.14,0.15,0.16,0.17,0.18,0.19,0.20,0.21,0.22,0.23,0.24,0.25], "labels": false, "domain": false, "tickSize": -5, "title": null}},
           "y": {"field": "y", "type": "quantitative", "scale": {"domain": [0.021, 0.035], "nice": false, "zero": false}, "axis": {"orient": "left", "values": [0.021,0.022,0.023,0.024,0.025,0.026,0.027,0.028,0.029,0.030,0.031,0.032,0.033,0.034,0.035], "labels": false, "domain": false, "tickSize": -5, "title": null}},
           "order": {"field": "t", "type": "quantitative"}
         }},
        {"data": {"name": "concordia"}, "transform": [{"filter": {"field": "t", "oneOf": [140,150,160,170,180,190,200,210,220]}}],
         "mark": {"type": "point", "shape": "circle", "size": 36, "filled": true, "fill": "white", "stroke": "black", "strokeWidth": 1.1, "opacity": 1, "clip": true},
         "encoding": {
           "x": {"field": "x", "type": "quantitative", "scale": {"domain": [0.14, 0.25], "nice": false, "zero": false}, "axis": null},
           "y": {"field": "y", "type": "quantitative", "scale": {"domain": [0.021, 0.035], "nice": false, "zero": false}, "axis": null}
         }},
        {"data": {"name": "ages"}, "transform": [{"filter": {"field": "p", "equal": "e"}}],
         "mark": {"type": "text", "fontSize": 18, "baseline": "middle", "align": "center"},
         "encoding": {
           "x": {"field": "x", "type": "quantitative", "scale": {"domain": [0.14, 0.25], "nice": false, "zero": false}, "axis": null},
           "y": {"field": "y", "type": "quantitative", "scale": {"domain": [0.021, 0.035], "nice": false, "zero": false}, "axis": null},
           "text": {"field": "lab", "type": "nominal"}
         }},
        {"data": {"name": "notes"}, "transform": [{"filter": {"field": "p", "equal": "e"}}, {"filter": {"field": "k", "equal": "n"}}],
         "mark": {"type": "text", "fontSize": 20, "baseline": "middle", "align": "left"},
         "encoding": {
           "x": {"field": "x", "type": "quantitative", "scale": {"domain": [0.14, 0.25], "nice": false, "zero": false}, "axis": null},
           "y": {"field": "y", "type": "quantitative", "scale": {"domain": [0.021, 0.035], "nice": false, "zero": false}, "axis": null},
           "text": {"field": "txt", "type": "nominal"}
         }},
        {"data": {"name": "notes"}, "transform": [{"filter": {"field": "p", "equal": "e"}}, {"filter": {"field": "k", "equal": "s"}}],
         "mark": {"type": "text", "fontSize": 11, "baseline": "middle", "align": "left"},
         "encoding": {
           "x": {"field": "x", "type": "quantitative", "scale": {"domain": [0.14, 0.25], "nice": false, "zero": false}, "axis": null},
           "y": {"field": "y", "type": "quantitative", "scale": {"domain": [0.021, 0.035], "nice": false, "zero": false}, "axis": null},
           "text": {"field": "txt", "type": "nominal"}
         }},
        {"data": {"name": "notes"}, "transform": [{"filter": {"field": "p", "equal": "e"}}, {"filter": {"field": "k", "equal": "l"}}],
         "mark": {"type": "text", "fontSize": 21, "baseline": "middle", "align": "left", "font": "Liberation Serif, Noto Sans CJK SC"},
         "encoding": {
           "x": {"field": "x", "type": "quantitative", "scale": {"domain": [0.14, 0.25], "nice": false, "zero": false}, "axis": null},
           "y": {"field": "y", "type": "quantitative", "scale": {"domain": [0.021, 0.035], "nice": false, "zero": false}, "axis": null},
           "text": {"field": "txt", "type": "nominal"}
         }}
      ]
    },
    {
      "width": 510, "height": 415,
      "resolve": {"axis": {"x": "independent", "y": "independent"}},
      "layer": [
        {"data": {"name": "ellipses"}, "transform": [{"filter": {"field": "p", "equal": "f"}}],
         "mark": {"type": "rect", "cornerRadius": 300, "stroke": "black", "strokeWidth": 1.5, "clip": true},
         "encoding": {
           "x": {"field": "x1", "type": "quantitative", "scale": {"domain": [0.08, 0.28], "nice": false, "zero": false}, "axis": {"orient": "bottom", "values": [0.08,0.12,0.16,0.20,0.24,0.28], "format": ".2f", "title": "²⁰⁷Pb/ ²³⁵U", "titleFontSize": 20}},
           "x2": {"field": "x2"},
           "y": {"field": "y1", "type": "quantitative", "scale": {"domain": [0.012, 0.040], "nice": false, "zero": false}, "axis": {"orient": "left", "values": [0.012,0.016,0.020,0.024,0.028,0.032,0.036,0.040], "format": ".3f", "title": "²⁰⁶Pb/²³⁸U"}},
           "y2": {"field": "y2"},
           "fill": {"field": "s", "type": "nominal", "scale": {"domain": ["open", "gray"], "range": ["transparent", "#c8c8c8"]}, "legend": null}
         }},
        {"data": {"name": "concordia"}, "transform": [{"filter": {"field": "t", "range": [70, 260]}}],
         "mark": {"type": "line", "color": "black", "strokeWidth": 1.2, "clip": true},
         "encoding": {
           "x": {"field": "x", "type": "quantitative", "scale": {"domain": [0.08, 0.28], "nice": false, "zero": false}, "axis": {"orient": "bottom", "values": [0.08,0.10,0.12,0.14,0.16,0.18,0.20,0.22,0.24,0.26,0.28], "labels": false, "domain": false, "tickSize": -5, "title": null}},
           "y": {"field": "y", "type": "quantitative", "scale": {"domain": [0.012, 0.040], "nice": false, "zero": false}, "axis": {"orient": "left", "values": [0.012,0.014,0.016,0.018,0.020,0.022,0.024,0.026,0.028,0.030,0.032,0.034,0.036,0.038,0.040], "labels": false, "domain": false, "tickSize": -5, "title": null}},
           "order": {"field": "t", "type": "quantitative"}
         }},
        {"data": {"name": "concordia"}, "transform": [{"filter": {"field": "t", "oneOf": [80,100,120,140,160,180,200,220,240]}}],
         "mark": {"type": "point", "shape": "circle", "size": 36, "filled": true, "fill": "white", "stroke": "black", "strokeWidth": 1.1, "opacity": 1, "clip": true},
         "encoding": {
           "x": {"field": "x", "type": "quantitative", "scale": {"domain": [0.08, 0.28], "nice": false, "zero": false}, "axis": null},
           "y": {"field": "y", "type": "quantitative", "scale": {"domain": [0.012, 0.040], "nice": false, "zero": false}, "axis": null}
         }},
        {"data": {"name": "ages"}, "transform": [{"filter": {"field": "p", "equal": "f"}}],
         "mark": {"type": "text", "fontSize": 18, "baseline": "middle", "align": "center"},
         "encoding": {
           "x": {"field": "x", "type": "quantitative", "scale": {"domain": [0.08, 0.28], "nice": false, "zero": false}, "axis": null},
           "y": {"field": "y", "type": "quantitative", "scale": {"domain": [0.012, 0.040], "nice": false, "zero": false}, "axis": null},
           "text": {"field": "lab", "type": "nominal"}
         }},
        {"data": {"name": "notes"}, "transform": [{"filter": {"field": "p", "equal": "f"}}, {"filter": {"field": "k", "equal": "n"}}],
         "mark": {"type": "text", "fontSize": 20, "baseline": "middle", "align": "left"},
         "encoding": {
           "x": {"field": "x", "type": "quantitative", "scale": {"domain": [0.08, 0.28], "nice": false, "zero": false}, "axis": null},
           "y": {"field": "y", "type": "quantitative", "scale": {"domain": [0.012, 0.040], "nice": false, "zero": false}, "axis": null},
           "text": {"field": "txt", "type": "nominal"}
         }},
        {"data": {"name": "notes"}, "transform": [{"filter": {"field": "p", "equal": "f"}}, {"filter": {"field": "k", "equal": "s"}}],
         "mark": {"type": "text", "fontSize": 11, "baseline": "middle", "align": "left"},
         "encoding": {
           "x": {"field": "x", "type": "quantitative", "scale": {"domain": [0.08, 0.28], "nice": false, "zero": false}, "axis": null},
           "y": {"field": "y", "type": "quantitative", "scale": {"domain": [0.012, 0.040], "nice": false, "zero": false}, "axis": null},
           "text": {"field": "txt", "type": "nominal"}
         }},
        {"data": {"name": "notes"}, "transform": [{"filter": {"field": "p", "equal": "f"}}, {"filter": {"field": "k", "equal": "l"}}],
         "mark": {"type": "text", "fontSize": 21, "baseline": "middle", "align": "left", "font": "Liberation Serif, Noto Sans CJK SC"},
         "encoding": {
           "x": {"field": "x", "type": "quantitative", "scale": {"domain": [0.08, 0.28], "nice": false, "zero": false}, "axis": null},
           "y": {"field": "y", "type": "quantitative", "scale": {"domain": [0.012, 0.040], "nice": false, "zero": false}, "axis": null},
           "text": {"field": "txt", "type": "nominal"}
         }}
      ]
    }
  ]
}
